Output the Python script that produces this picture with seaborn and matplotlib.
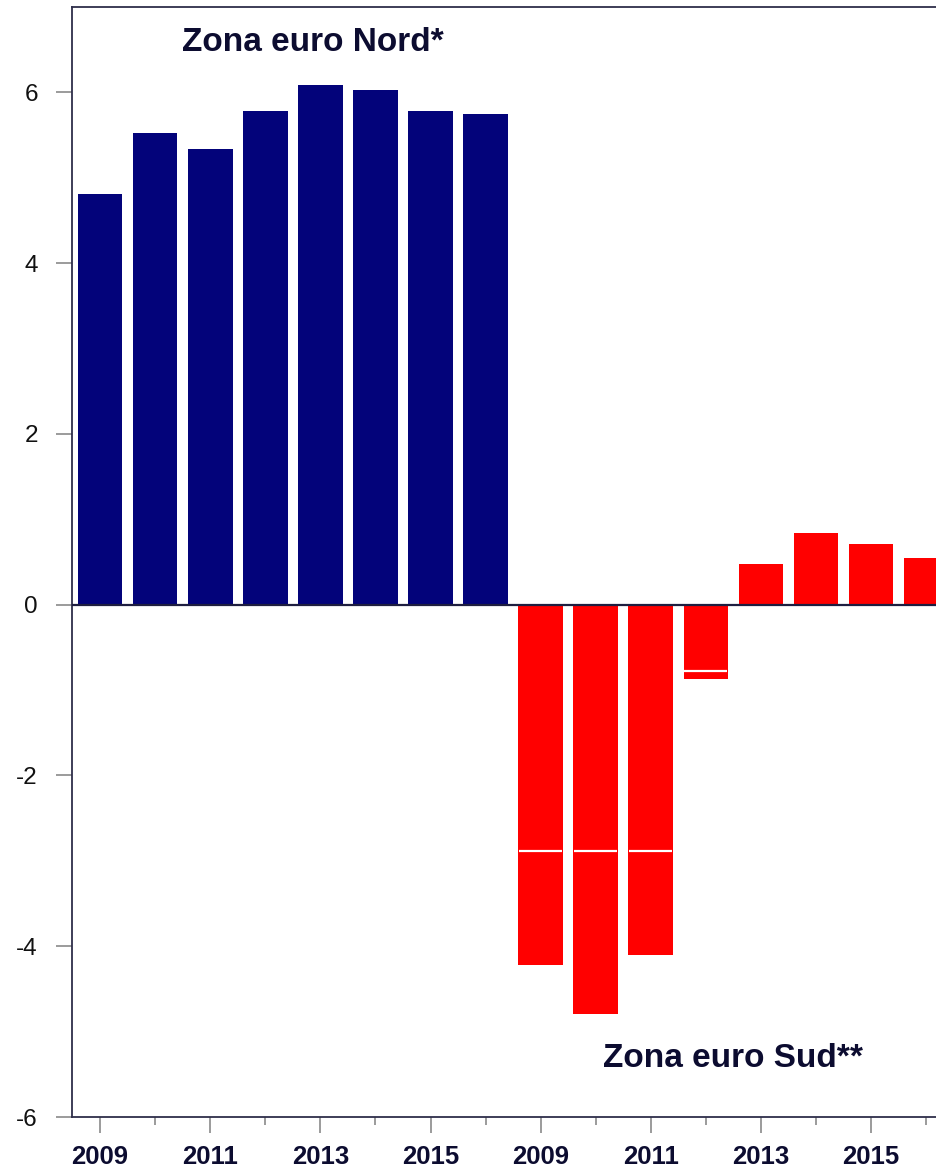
import numpy as np
import pandas as pd
import matplotlib
matplotlib.use("Agg")
import matplotlib.pyplot as plt
import seaborn as sns

sns.set_theme(style="white")
plt.rcParams["font.family"] = ["Liberation Sans", "DejaVu Sans"]

# Saldo per anno, zona euro Nord e Sud
years = [2009, 2010, 2011, 2012, 2013, 2014, 2015, 2016]
nord = [4.81, 5.53, 5.34, 5.78, 6.09, 6.03, 5.78, 5.75]
sud = [-4.22, -4.79, -4.10, -0.87, 0.48, 0.84, 0.71, 0.55]
# livello delle linee di separazione interne alle barre Sud
sud_split = [-2.89, -2.89, -2.89, -0.78, np.nan, np.nan, np.nan, np.nan]
groups = ["Zona euro Nord*", "Zona euro Sud**"]
colors = {"Zona euro Nord*": "#03037a", "Zona euro Sud**": "#ff0000"}
text_color = "#0c0c30"

slots = [f"N{y}" for y in years] + [f"S{y}" for y in years]
df = pd.DataFrame({
    "slot": slots,
    "valore": nord + sud,
    "gruppo": [groups[0]] * len(years) + [groups[1]] * len(years),
})

fig = plt.figure(figsize=(9.36, 11.73), dpi=100)
# the axes runs past the right edge of the figure, so the last bar is cut
ax = fig.add_axes([72 / 936, 1 - 1117 / 1173, 1 - 72 / 936 + 0.05, (1117 - 7) / 1173])

bar_w = 0.81
sns.barplot(data=df, x="slot", y="valore", hue="gruppo", order=slots,
            palette=colors, dodge=False, width=bar_w, saturation=1,
            legend=False, ax=ax, linewidth=0)

# separatori bianchi
for i, v in enumerate(sud_split):
    if not np.isnan(v):
        xi = len(years) + i
        ax.hlines(v, xi - bar_w / 2 + 0.012, xi + bar_w / 2 - 0.012,
                  color="white", lw=1.6, zorder=5)

ax.axhline(0, color="#1e1e40", lw=1.6, zorder=6)

slot_px = 55.07
right_px = 936 * (1 + 0.05)
ax.set_xlim(-0.51, -0.51 + (right_px - 72) / slot_px)
ax.set_ylim(-6, 7)

ax.set_yticks([-6, -4, -2, 0, 2, 4, 6])
ax.set_yticklabels(["-6", "-4", "-2", "0", "2", "4", "6"])
major = list(range(0, 16, 2))
minor = list(range(1, 16, 2))
ax.set_xticks(major)
ax.set_xticklabels([str(years[i % 8]) for i in major], fontweight="bold")
ax.set_xticks(minor, minor=True)

ax.tick_params(axis="y", which="major", direction="out", length=11.5, width=1.2,
               color="#8a8a8a", pad=13, labelsize=17.5, labelcolor="#111111", left=True)
ax.tick_params(axis="x", which="major", direction="out", length=11.5, width=1.2,
               color="#8a8a8a", pad=9, labelsize=18.5, labelcolor=text_color, bottom=True)
ax.tick_params(axis="x", which="minor", direction="out", length=5.5, width=1.2,
               color="#8a8a8a", bottom=True)

for side in ["left", "bottom", "top"]:
    ax.spines[side].set_visible(True)
    ax.spines[side].set_color("#2e2e4a")
    ax.spines[side].set_linewidth(1.3)
ax.spines["right"].set_visible(False)
ax.set_xlabel("")
ax.set_ylabel("")

ax.text(3.87, 6.48, groups[0], ha="center", va="baseline", fontsize=24,
        fontweight="bold", color=text_color)
ax.text(11.5, -5.42, groups[1], ha="center", va="baseline", fontsize=24,
        fontweight="bold", color=text_color)

fig.savefig("out.png", dpi=100)
